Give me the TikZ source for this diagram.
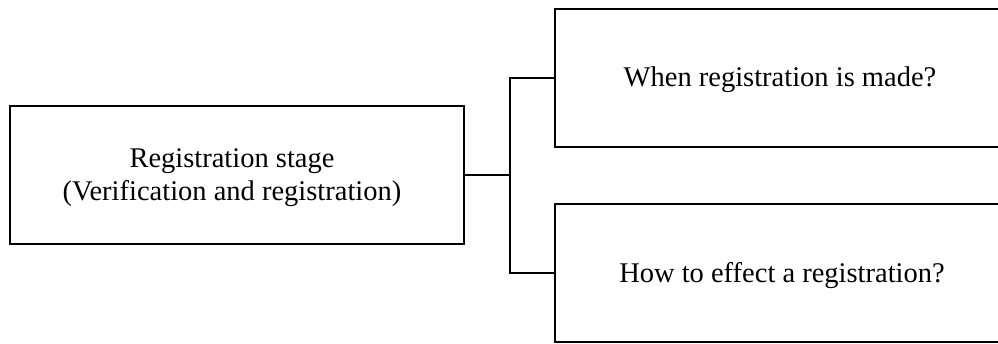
\documentclass[tikz,border=0pt]{standalone}
\usepackage{fontspec}
\setmainfont{Liberation Serif}
\begin{document}
\begin{tikzpicture}[x=1pt,y=-1pt,
  box/.style={draw=black,line width=1.9pt,rectangle,inner sep=0pt},
  lbl/.style={font=\fontsize{28.5}{33}\selectfont,align=center,inner sep=0pt},
  conn/.style={draw=black,line width=1.9pt}]
\useasboundingbox (0,0) rectangle (998,343);
\node[box,minimum width=454pt,minimum height=138pt] (L) at (237,175) {};
\node[box,minimum width=445pt,minimum height=138pt] (T) at (777.5,78) {};
\node[box,minimum width=445pt,minimum height=138pt] (B) at (777.5,273) {};
\node[lbl] (Lt) at (232,178) {Registration stage\\(Verification and registration)};
\node[lbl,anchor=base] (Tt) at (780,86.5) {When registration is made?};
\node[lbl,anchor=base] (Bt) at (782,282) {How to effect a registration?};
\coordinate (j) at (510,175);
\draw[conn] (L.east) -- (j);
\draw[conn] (T.west) -| (j) |- (B.west);
\end{tikzpicture}
\end{document}
